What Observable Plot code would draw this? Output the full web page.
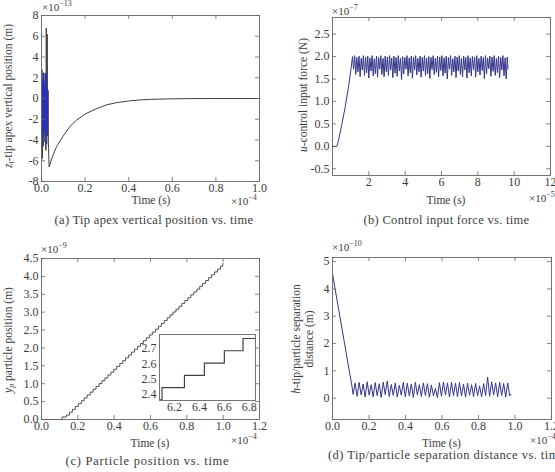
<!DOCTYPE html>
<html>
<head>
<meta charset="utf-8">
<script src="https://cdn.jsdelivr.net/npm/d3@7"></script>
<script src="https://cdn.jsdelivr.net/npm/@observablehq/plot@0.6"></script>
<style>
  body { margin: 0; background: #fff; }
  #fig { position: relative; width: 555px; height: 472px; overflow: hidden;
         font-family: "Liberation Serif", "DejaVu Serif", serif; color: #3c3c3c; }
  #fig svg { position: absolute; overflow: visible; }
  #fig svg text { font-family: "Liberation Serif", "DejaVu Serif", serif; }
  .lbl { position: absolute; white-space: nowrap; font-size: 11.5px; line-height: 1.15; }
  .lbl sup { font-size: 8px; vertical-align: 5px; line-height: 0; }
  .lbl sub { font-size: 8px; vertical-align: -2px; line-height: 0; }
  .exp { font-size: 11px; line-height: 1; }
  .cap { font-size: 12.5px; letter-spacing: 0.3px; }
</style>
</head>
<body>
<div id="fig"></div>
<script>
// (a) tip apex vertical position, time in 1e-4 s, position in 1e-13 m
const aTime = [0.000, 0.002, 0.004, 0.006, 0.008, 0.010, 0.012, 0.014, 0.016, 0.018, 0.020, 0.022, 0.024, 0.026, 0.028, 0.030, 0.031, 0.032, 0.035,
               0.05, 0.07, 0.10, 0.13, 0.16, 0.20, 0.25, 0.30, 0.35, 0.40, 0.45, 0.50, 0.60, 0.70, 0.80, 1.00];
const aPos  = [-5.6, 2.8, -5.8, 1.8, -4.6, 2.5, -3.4, 1.2, -4.2, 2.4, -5.0, 6.8, -4.4, 6.2, -3.6, 0.8, -3.2, -4.8, -6.6,
               -5.6, -4.6, -3.6, -2.7, -2.1, -1.5, -1.0, -0.6, -0.38, -0.24, -0.14, -0.08, -0.03, -0.01, 0, 0];
// fast initial transient of the same trace (drawn in blue)
const aFastTime = [0.001, 0.003, 0.005, 0.007, 0.009, 0.011, 0.013, 0.015, 0.017, 0.019, 0.021, 0.023, 0.025, 0.028, 0.029];
const aFastPos  = [2.4, -3.5, 1.9, -4.2, 2.3, -3.0, 1.6, -2.8, 2.4, -4.5, 2.4, -3.2, 1.0, 0.6, -3.5];

// (b) control input force, time in 1e-5 s, force in 1e-7 N
const bTime = [0.00, 0.24, 0.33, 0.52, 0.70, 0.88, 1.01,
  1.10, 1.16, 1.22, 1.28, 1.34, 1.40, 1.46, 1.52, 1.58, 1.64, 1.70, 1.76, 1.82, 1.88, 1.94, 2.00, 2.06, 2.12, 2.18, 2.24,
  2.30, 2.36, 2.42, 2.48, 2.54, 2.60, 2.66, 2.72, 2.78, 2.84, 2.90, 2.96, 3.02, 3.08, 3.14, 3.20, 3.26, 3.32, 3.38, 3.44,
  3.50, 3.56, 3.62, 3.68, 3.74, 3.80, 3.86, 3.92, 3.98, 4.04, 4.10, 4.16, 4.22, 4.28, 4.34, 4.40, 4.46, 4.52, 4.58, 4.64,
  4.70, 4.76, 4.82, 4.88, 4.94, 5.00, 5.06, 5.12, 5.18, 5.24, 5.30, 5.36, 5.42, 5.48, 5.54, 5.60, 5.66, 5.72, 5.78, 5.84,
  5.90, 5.96, 6.02, 6.08, 6.14, 6.20, 6.26, 6.32, 6.38, 6.44, 6.50, 6.56, 6.62, 6.68, 6.74, 6.80, 6.86, 6.92, 6.98, 7.04,
  7.10, 7.16, 7.22, 7.28, 7.34, 7.40, 7.46, 7.52, 7.58, 7.64, 7.70, 7.76, 7.82, 7.88, 7.94, 8.00, 8.06, 8.12, 8.18, 8.24,
  8.30, 8.36, 8.42, 8.48, 8.54, 8.60, 8.66, 8.72, 8.78, 8.84, 8.90, 8.96, 9.02, 9.08, 9.14, 9.20, 9.26, 9.32, 9.38, 9.44,
  9.50, 9.56, 9.62, 9.66];
const bForce = [-0.01, 0.00, 0.13, 0.50, 0.88, 1.32, 1.70,
  2.00, 1.72, 2.02, 1.60, 1.98, 1.66, 2.01, 1.55, 1.96, 1.70, 2.02, 1.58, 1.99, 1.64, 2.01, 1.52, 1.97, 1.68, 2.02, 1.57,
  1.95, 1.62, 2.01, 1.54, 1.98, 1.72, 2.02, 1.60, 1.96, 1.55, 2.01, 1.66, 1.99, 1.58, 2.02, 1.70, 1.97, 1.53, 2.01, 1.63,
  1.98, 1.56, 2.02, 1.68, 1.96, 1.49, 2.00, 1.61, 1.98, 1.72, 2.02, 1.57, 1.97, 1.64, 2.01, 1.52, 1.99, 1.70, 2.02, 1.59,
  1.96, 1.66, 2.01, 1.54, 1.98, 1.68, 2.02, 1.58, 1.97, 1.62, 2.00, 1.51, 1.98, 1.71, 2.02, 1.60, 1.96, 1.65, 2.01, 1.55,
  1.99, 1.69, 2.02, 1.57, 1.97, 1.63, 2.01, 1.50, 1.98, 1.72, 2.02, 1.58, 1.95, 1.66, 2.01, 1.53, 1.99, 1.68, 2.02, 1.60,
  1.96, 1.55, 2.01, 1.70, 1.98, 1.52, 2.02, 1.64, 1.97, 1.57, 2.00, 1.71, 1.99, 1.54, 2.02, 1.66, 1.96, 1.59, 2.01, 1.69,
  1.98, 1.51, 2.02, 1.62, 1.97, 1.73, 2.01, 1.56, 1.99, 1.67, 2.02, 1.58, 1.96, 1.64, 2.01, 1.53, 1.98, 1.70, 2.02, 1.57,
  1.97, 1.50, 1.99, 1.72];

// (c) particle position: staircase corners, time in 1e-4 s, position in 1e-9 m
const cTime = [0.020, 0.113, 0.137, 0.154, 0.170, 0.186, 0.203, 0.219, 0.235, 0.251, 0.268, 0.284, 0.300, 0.317, 0.333,
  0.349, 0.366, 0.382, 0.398, 0.414, 0.431, 0.447, 0.463, 0.480, 0.496, 0.512, 0.529, 0.545, 0.561, 0.577, 0.594, 0.610,
  0.628, 0.644, 0.660, 0.675, 0.692, 0.708, 0.724, 0.740, 0.757, 0.773, 0.789, 0.806, 0.822, 0.838, 0.855, 0.871, 0.887,
  0.903, 0.920, 0.936, 0.952, 0.969, 0.985, 0.998, 1.000];
const cPos = [0.000, 0.070, 0.124, 0.204, 0.284, 0.364, 0.444, 0.524, 0.604, 0.684, 0.764, 0.844, 0.924, 1.004, 1.084,
  1.164, 1.244, 1.324, 1.404, 1.484, 1.564, 1.644, 1.724, 1.804, 1.884, 1.964, 2.044, 2.124, 2.204, 2.284, 2.364, 2.444,
  2.524, 2.604, 2.684, 2.764, 2.844, 2.924, 3.004, 3.084, 3.164, 3.244, 3.324, 3.404, 3.484, 3.564, 3.644, 3.724, 3.804,
  3.884, 3.964, 4.044, 4.124, 4.204, 4.284, 4.364, 4.364];

// (d) tip/particle separation, time in 1e-4 s, distance in 1e-10 m
const dTime = [0.000, 0.108,
  0.113, 0.124, 0.135, 0.146, 0.157, 0.168, 0.179, 0.190, 0.201, 0.212, 0.223, 0.234, 0.245, 0.256, 0.267, 0.278, 0.289,
  0.300, 0.311, 0.322, 0.333, 0.344, 0.355, 0.366, 0.377, 0.388, 0.399, 0.410, 0.421, 0.432, 0.443, 0.454, 0.465, 0.476,
  0.487, 0.498, 0.509, 0.520, 0.531, 0.542, 0.553, 0.564, 0.575, 0.586, 0.597, 0.608, 0.619, 0.630, 0.641, 0.652, 0.663,
  0.674, 0.685, 0.696, 0.707, 0.718, 0.729, 0.740, 0.751, 0.762, 0.773, 0.784, 0.795, 0.806, 0.817, 0.828, 0.839, 0.850,
  0.861, 0.872, 0.883, 0.894, 0.905, 0.916, 0.927, 0.938, 0.949, 0.960, 0.971, 0.977];
const dSep = [4.55, 0.38,
  0.14, 0.55, 0.07, 0.58, 0.12, 0.52, 0.04, 0.60, 0.11, 0.49, 0.05, 0.57, 0.09, 0.53, 0.03, 0.59, 0.13,
  0.63, 0.06, 0.50, 0.10, 0.56, 0.04, 0.47, 0.11, 0.58, 0.05, 0.55, 0.08, 0.52, 0.03, 0.58, 0.12, 0.50,
  0.06, 0.56, 0.10, 0.53, 0.04, 0.48, 0.09, 0.36, 0.02, 0.57, 0.07, 0.59, 0.12, 0.56, 0.04, 0.58, 0.10,
  0.55, 0.05, 0.57, 0.08, 0.52, 0.04, 0.55, 0.11, 0.49, 0.06, 0.54, 0.09, 0.45, 0.05, 0.53, 0.10, 0.77,
  0.07, 0.60, 0.12, 0.56, 0.05, 0.58, 0.10, 0.54, 0.04, 0.56, 0.09, 0.14];

// tick values per panel
const aXTicks = [0, 0.2, 0.4, 0.6, 0.8, 1.0];
const aYTicks = [-8, -6, -4, -2, 0, 2, 4, 6, 8];
const bXTicks = [2, 4, 6, 8, 10, 12];
const bYTicks = [-0.5, 0, 0.5, 1.0, 1.5, 2.0, 2.5];
const cXTicks = [0, 0.2, 0.4, 0.6, 0.8, 1.0, 1.2];
const cYTicks = [0, 0.5, 1.0, 1.5, 2.0, 2.5, 3.0, 3.5, 4.0, 4.5];
const insetXTicks = [6.2, 6.4, 6.6, 6.8];
const insetYTicks = [2.4, 2.5, 2.6, 2.7];
const dXTicks = [0, 0.2, 0.4, 0.6, 0.8, 1.0, 1.2];
const dYTicks = [0, 1, 2, 3, 4, 5];

const FONT = '"Liberation Serif", "DejaVu Serif", serif';
const AXIS = "#666666";
const INK = "#404040";
const BLUE = "#2430c8";
const NAVY = "#34348a";

const fig = document.getElementById("fig");
const fixed1 = (d) => d.toFixed(1);
const plain = (d) => String(d);

const pts = (xs, ys) => xs.map((x, i) => ({x, y: ys[i]}));

// One boxed panel: frame given in page pixels, inward ticks on all four sides
function panel({frame: [x0, y0, x1, y1], xDomain, yDomain, xTicks, yTicks, xFormat, yFormat, marks, tick = 4, outerTicks = true, fontSize = 12}) {
  const mL = 40, mT = 10, mR = 14, mB = 24;
  const w = x1 - x0, h = y1 - y0;
  const tickMarks = outerTicks ? [
    Plot.ruleX(xTicks, {insetTop: h - tick, stroke: AXIS, strokeWidth: 0.8}),
    Plot.ruleX(xTicks, {insetBottom: h - tick, stroke: AXIS, strokeWidth: 0.8}),
    Plot.ruleY(yTicks, {insetRight: w - tick, stroke: AXIS, strokeWidth: 0.8}),
    Plot.ruleY(yTicks, {insetLeft: w - tick, stroke: AXIS, strokeWidth: 0.8})
  ] : [];
  const svg = Plot.plot({
    width: w + mL + mR,
    height: h + mT + mB,
    marginLeft: mL, marginTop: mT, marginRight: mR, marginBottom: mB,
    style: `font-family: ${FONT}; font-size: ${fontSize}px; color: #3c3c3c; background: transparent;`,
    x: {domain: xDomain},
    y: {domain: yDomain},
    marks: [
      ...marks,
      ...tickMarks,
      Plot.axisX(xTicks, {tickSize: 0, tickPadding: 2, tickFormat: xFormat, label: null}),
      Plot.axisY(yTicks, {tickSize: 0, tickPadding: 3, tickFormat: yFormat, label: null}),
      Plot.frame({stroke: AXIS, strokeWidth: 0.9})
    ]
  });
  svg.style.left = (x0 - mL) + "px";
  svg.style.top = (y0 - mT) + "px";
  fig.appendChild(svg);
}

function text(html, x, y, {anchor = "center", rotate = false, cls = "", spacing = null} = {}) {
  const d = document.createElement("div");
  d.className = "lbl " + cls;
  d.innerHTML = html;
  d.style.left = x + "px";
  d.style.top = y + "px";
  if (spacing != null) d.style.letterSpacing = spacing + "px";
  const tx = anchor === "start" ? "0" : "-50%";
  d.style.transform = `translate(${tx},-50%)` + (rotate ? " rotate(-90deg)" : "");
  if (rotate) d.style.textAlign = "center";
  fig.appendChild(d);
}

// (a)
panel({
  frame: [41, 15, 259, 181], xDomain: [0, 1], yDomain: [-8, 8],
  xTicks: aXTicks, yTicks: aYTicks, xFormat: fixed1, yFormat: plain,
  marks: [
    Plot.line(pts(aTime, aPos), {x: "x", y: "y", stroke: INK, strokeWidth: 1}),
    Plot.line(pts(aFastTime, aFastPos), {x: "x", y: "y", stroke: BLUE, strokeWidth: 1.3, strokeOpacity: 0.85})
  ]
});

// (b)
panel({
  frame: [332, 17, 550, 175], xDomain: [0, 12], yDomain: [-0.65, 2.87],
  xTicks: bXTicks, yTicks: bYTicks, xFormat: plain, yFormat: fixed1,
  marks: [
    Plot.line(pts(bTime, bForce), {x: "x", y: "y", stroke: NAVY, strokeWidth: 1})
  ]
});

// (c) main trace and zoomed inset
const cData = pts(cTime, cPos);
panel({
  frame: [41, 258, 259, 419], xDomain: [0, 1.2], yDomain: [0, 4.5],
  xTicks: cXTicks, yTicks: cYTicks, xFormat: fixed1, yFormat: fixed1,
  marks: [
    Plot.line(cData, {x: "x", y: "y", curve: "step-after", stroke: INK, strokeWidth: 0.9})
  ]
});
panel({
  frame: [159, 334, 255, 400], xDomain: [6.08, 6.85], yDomain: [2.36, 2.79],
  xTicks: insetXTicks, yTicks: insetYTicks, xFormat: fixed1, yFormat: fixed1, outerTicks: false,
  marks: [
    Plot.frame({fill: "white"}),
    Plot.line(cData, {x: (d) => d.x * 10, y: "y", curve: "step-after", stroke: INK, strokeWidth: 1.2, clip: true})
  ]
});

// (d)
panel({
  frame: [332, 257, 551, 419], xDomain: [0, 1.2], yDomain: [-0.78, 5.15],
  xTicks: dXTicks, yTicks: dYTicks, xFormat: fixed1, yFormat: plain,
  marks: [
    Plot.line(pts(dTime, dSep), {x: "x", y: "y", stroke: NAVY, strokeWidth: 1})
  ]
});

// axis titles, exponent factors and captions
text("×10<sup>−13</sup>", 42, 7, {anchor: "start", cls: "exp"});
text("<i>z</i><sub>t</sub>-tip apex vertical position (m)", 9, 96, {rotate: true});
text("Time (s)", 151, 200.5);
text("×10<sup>−4</sup>", 231, 200.5, {anchor: "start", cls: "exp"});
text("(a) Tip apex vertical position vs. time", 154, 219.5, {cls: "cap"});

text("×10<sup>−7</sup>", 332, 11, {anchor: "start", cls: "exp"});
text("<i>u</i>-control input force (N)", 303.5, 95, {rotate: true});
text("Time (s)", 446, 200.5);
text("×10<sup>−5</sup>", 529, 197.5, {anchor: "start", cls: "exp"});
text("(b) Control input force vs. time", 446.5, 219.5, {cls: "cap"});

text("×10<sup>−9</sup>", 41, 248.5, {anchor: "start", cls: "exp"});
text("<i>y<sub>p</sub></i> particle position (m)", 9, 340, {rotate: true});
text("Time (s)", 150, 443.5);
text("×10<sup>−4</sup>", 231, 439.5, {anchor: "start", cls: "exp"});
text("(c) Particle position vs. time", 147.5, 461, {cls: "cap", spacing: 0.75});

text("×10<sup>−10</sup>", 332, 247, {anchor: "start", cls: "exp"});
text("<i>h</i>-tip/particle separation<br>distance (m)", 303, 338.5, {rotate: true});
text("Time (s)", 441.5, 443.5);
text("×10<sup>−4</sup>", 530, 439.5, {anchor: "start", cls: "exp"});
text("(d) Tip/particle separation distance vs. time", 328, 455, {anchor: "start", cls: "cap", spacing: 0.45});
</script>
</body>
</html>
